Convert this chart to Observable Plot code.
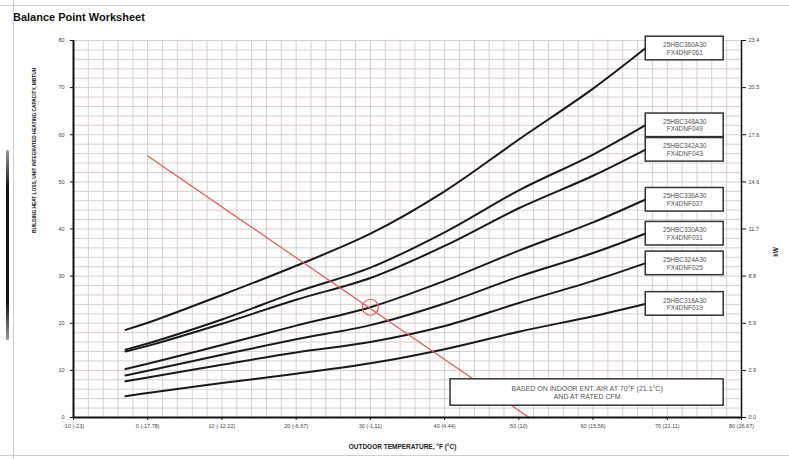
<!DOCTYPE html>
<html>
<head>
<meta charset="utf-8">
<script src="https://cdn.jsdelivr.net/npm/d3@7"></script>
<script src="https://cdn.jsdelivr.net/npm/@observablehq/plot@0.6"></script>
<style>
  html, body { margin: 0; padding: 0; background: #fff; }
  body { width: 789px; height: 459px; position: relative; overflow: hidden; font-family: "Liberation Sans", Arial, sans-serif; }
  #title { height: 25px; box-sizing: border-box; padding: 11px 0 0 13px; font-size: 11px; line-height: 12px; font-weight: bold; color: #111; }
  .edge { position: absolute; background: #cfcfcf; }
  #bar { position: absolute; left: 6px; top: 150px; width: 3px; height: 190px; background: linear-gradient(#999, #111 20%, #111 80%, #999); border-radius: 2px; }
  svg { display: block; }
</style>
</head>
<body>
<div class="edge" style="left:0;top:5px;width:789px;height:1px"></div>
<div class="edge" style="left:13px;top:0;width:1px;height:459px"></div>
<div class="edge" style="left:0;top:455px;width:789px;height:1px"></div>
<div id="bar"></div>
<div id="title">Balance Point Worksheet</div>
<div id="chart"></div>
<script>
// ---- data ----
const temps = [-3, 0, 10, 20, 30, 40, 50, 60, 67];           // outdoor temperature, °F
const models = [
  "25HBC360A30\nFX4DNF061",
  "25HBC348A30\nFX4DNF049",
  "25HBC342A30\nFX4DNF043",
  "25HBC336A30\nFX4DNF037",
  "25HBC330A30\nFX4DNF031",
  "25HBC324A30\nFX4DNF025",
  "25HBC318A30\nFX4DNF019"
];
const cap360 = [18.6, 20.1, 26.0, 32.2, 39.0, 48.0, 59.0, 69.8, 78.3];
const cap348 = [14.4, 15.7, 20.8, 26.6, 31.8, 39.3, 48.2, 55.8, 62.0];
const cap342 = [14.0, 15.2, 19.9, 25.0, 29.6, 36.4, 44.4, 51.3, 56.8];
const cap336 = [10.3, 11.4, 15.4, 19.5, 23.4, 29.0, 35.4, 41.4, 46.2];
const cap330 = [8.9, 9.9, 13.3, 16.6, 19.6, 24.2, 29.9, 34.9, 39.0];
const cap324 = [7.7, 8.5, 11.2, 13.8, 16.0, 19.4, 24.3, 29.0, 32.7];
const cap318 = [4.5, 5.2, 7.3, 9.3, 11.5, 14.5, 18.2, 21.5, 24.1];
const heatLossTemps = [0, 51.4];
const heatLossLoad = [55.5, 0];
const balanceTemp = 30;
const xTicks = [-10, 0, 10, 20, 30, 40, 50, 60, 70, 80];
const xTickLabels = ["-10 (-23)", "0 (-17.78)", "10 (-12.22)", "20 (-6.67)", "30 (-1.11)", "40 (4.44)", "50 (10)", "60 (15.56)", "70 (21.11)", "80 (26.67)"];
const yTicks = [0, 10, 20, 30, 40, 50, 60, 70, 80];
const kwTickLabels = ["0.0", "2.9", "5.9", "8.8", "11.7", "14.6", "17.6", "20.5", "23.4"];
const noteText = "BASED ON INDOOR ENT. AIR AT 70°F (21.1°C)\nAND AT RATED CFM";

// ---- tables ----
const allCaps = [cap360, cap348, cap342, cap336, cap330, cap324, cap318];
const rows = [];
allCaps.forEach((arr, k) => arr.forEach((v, i) => rows.push({model: models[k], t: temps[i], c: v})));
const ends = allCaps.map((arr, k) => ({model: models[k], t: temps[temps.length - 1], c: arr[arr.length - 1]}));
const heatLoss = heatLossTemps.map((t, i) => ({t, c: heatLossLoad[i]}));
const balance = [{t: balanceTemp, c: cap336[temps.indexOf(balanceTemp)]}];
const note = [{x1: 40.8, x2: 77.6, y1: 2.5, y2: 8.1}];

const chart = Plot.plot({
  width: 789,
  height: 434,
  marginLeft: 73,
  marginRight: 48,
  marginTop: 15,
  marginBottom: 42,
  x: {domain: [-10, 80]},
  y: {domain: [0, 80]},
  style: {fontFamily: "'Liberation Sans', Arial, sans-serif", fontSize: "5.5px", color: "#444", background: "white"},
  marks: [
    Plot.gridX({ticks: d3.range(-10, 81, 2), stroke: "#dbcfcf", strokeOpacity: 1, strokeWidth: 1}),
    Plot.gridY({ticks: d3.range(0, 81, 2), stroke: "#dbcfcf", strokeOpacity: 1, strokeWidth: 1}),
    Plot.line(rows, {x: "t", y: "c", z: "model", curve: "catmull-rom", stroke: "#1a1a1a", strokeWidth: 2}),
    Plot.line(heatLoss, {x: "t", y: "c", stroke: "#e25a55", strokeWidth: 1.2}),
    Plot.dot(balance, {x: "t", y: "c", r: 8, stroke: "#e25a55", strokeWidth: 1.2, fill: "none"}),
    Plot.rect(ends, {x1: d => d.t + 0.1, x2: d => d.t + 10.6, y1: d => d.c - 2.5, y2: d => d.c + 2.5, fill: "white", stroke: "#333", strokeWidth: 1.5}),
    Plot.text(ends, {x: d => d.t + 5.35, y: "c", text: "model", fontSize: 6.5, fill: "#555", lineHeight: 1.15}),
    Plot.rect(note, {x1: "x1", x2: "x2", y1: "y1", y2: "y2", fill: "white", stroke: "#333", strokeWidth: 1.5}),
    Plot.text(note, {x: d => (d.x1 + d.x2) / 2, y: d => (d.y1 + d.y2) / 2, text: () => noteText, fontSize: 7, fill: "#555", lineHeight: 1.15}),
    Plot.axisX({ticks: xTicks, tickFormat: d => xTickLabels[xTicks.indexOf(d)], tickSize: 3, tickPadding: 4, label: null, stroke: "#111"}),
    Plot.axisY({anchor: "left", ticks: yTicks, tickSize: 3, tickPadding: 6, label: null, stroke: "#111"}),
    Plot.axisY({anchor: "right", ticks: yTicks, tickFormat: d => kwTickLabels[yTicks.indexOf(d)], tickSize: 4, tickPadding: 3, label: null, stroke: "#111"}),
    Plot.ruleX([-10], {stroke: "#111", strokeWidth: 2}),
    Plot.ruleX([80], {stroke: "#111", strokeWidth: 1.5}),
    Plot.ruleY([0], {stroke: "#111", strokeWidth: 2}),
    Plot.text(["OUTDOOR TEMPERATURE, °F (°C)"], {frameAnchor: "bottom", dx: -5, dy: 31, fontSize: 6.5, fontWeight: "bold", fill: "#222"}),
    Plot.text(["BUILDING HEAT LOSS, UNIT INTEGRATED HEATING CAPACITY, MBTUH"], {frameAnchor: "left", dx: -39, dy: 4, rotate: -90, fontSize: 4.8, fontWeight: "bold", fill: "#222"}),
    Plot.text(["kW"], {frameAnchor: "right", dx: 34, dy: 18, rotate: -90, fontSize: 6.5, fontWeight: "bold", fill: "#222"})
  ]
});
document.getElementById("chart").appendChild(chart);
</script>
</body>
</html>
